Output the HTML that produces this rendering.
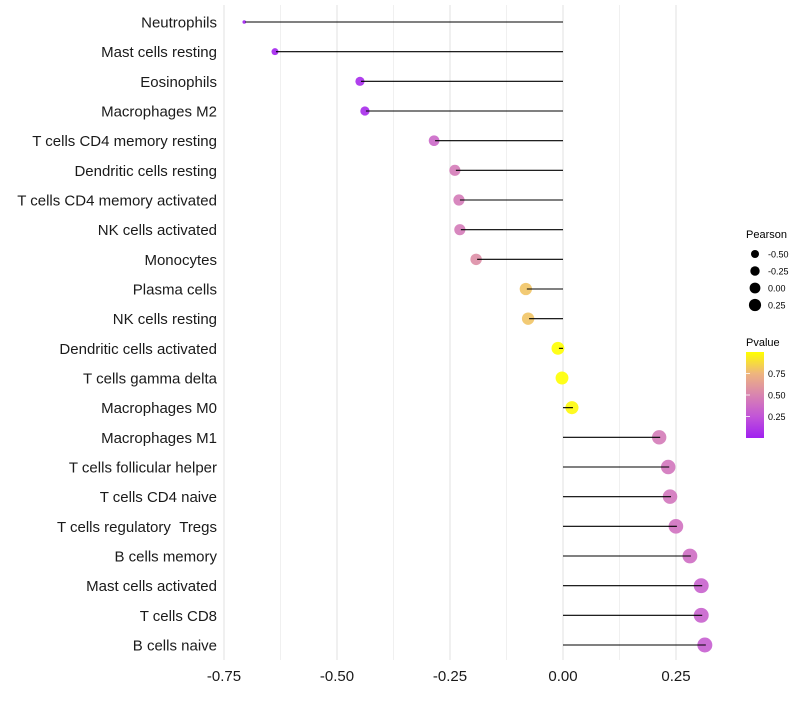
<!DOCTYPE html>
<html><head><meta charset="utf-8"><style>
body{margin:0;background:#fff;font-family:"Liberation Sans",sans-serif}
svg text{font-family:"Liberation Sans",sans-serif}
</style></head><body>
<svg id="chart" width="800" height="700" viewBox="0 0 800 700" xmlns="http://www.w3.org/2000/svg">
<g id="grid"></g>
<g id="marks"></g>
<g id="ylabels"></g>
<g id="xlabels"></g>
<g>
<text x="746" y="238" font-size="11">Pearson</text>
<g id="sizeleg"></g>
</g>
<g>
<text x="746" y="346" font-size="11">Pvalue</text>
<defs><linearGradient id="pg" x1="0" y1="1" x2="0" y2="0">
<stop offset="0" stop-color="#a020f0"/><stop offset="0.25" stop-color="#c255d8"/><stop offset="0.5" stop-color="#d984b0"/><stop offset="0.75" stop-color="#eeb57e"/><stop offset="1" stop-color="#ffff00"/>
</linearGradient></defs>
<rect x="746" y="352" width="18" height="86" fill="url(#pg)"/>
<g id="colleg"></g>
</g>
</svg>
<script>
const categories=["Neutrophils","Mast cells resting","Eosinophils","Macrophages M2","T cells CD4 memory resting","Dendritic cells resting","T cells CD4 memory activated","NK cells activated","Monocytes","Plasma cells","NK cells resting","Dendritic cells activated","T cells gamma delta","Macrophages M0","Macrophages M1","T cells follicular helper","T cells CD4 naive","T cells regulatory\u00a0\u00a0Tregs","B cells memory","Mast cells activated","T cells CD8","B cells naive"];
const pearson=[-0.703,-0.635,-0.447,-0.436,-0.283,-0.237,-0.228,-0.226,-0.19,-0.08,-0.075,-0.009,0.0,0.022,0.215,0.235,0.239,0.252,0.283,0.308,0.308,0.316];
const pvalue=[0.0,0.02,0.05,0.05,0.35,0.45,0.45,0.45,0.55,0.8,0.8,1.0,1.0,0.98,0.45,0.42,0.42,0.4,0.38,0.32,0.32,0.3];
const xTicks=[-0.75,-0.5,-0.25,0,0.25];
const xTickLabels=["-0.75","-0.50","-0.25","0.00","0.25"];
const sizeLegVals=[-0.5,-0.25,0,0.25];
const sizeLegLabels=["-0.50","-0.25","0.00","0.25"];
const colLegVals=[0.25,0.5,0.75];
const colLegLabels=["0.25","0.50","0.75"];

const NS="http://www.w3.org/2000/svg";
const x=v=>563+v*452;
const y=i=>22+i*(623/21);
const rad=v=>{const d=v+0.635;return Math.sqrt(Math.max(3.2,12.25+46.3*d+Math.min(0,d)*100));};
const stops=[[0,[160,32,240]],[0.25,[194,85,216]],[0.5,[217,132,176]],[0.75,[238,181,126]],[1,[255,255,0]]];
function col(p){p=Math.max(0,Math.min(1,p));for(let k=0;k<stops.length-1;k++){const a=stops[k],b=stops[k+1];if(p<=b[0]){const t=(p-a[0])/(b[0]-a[0]);const c=a[1].map((v,j)=>Math.round(v+(b[1][j]-v)*t));return `rgb(${c.join(',')})`;}}return "rgb(255,255,0)";}
function mk(tag,attrs,parent){const e=document.createElementNS(NS,tag);for(const k in attrs)e.setAttribute(k,attrs[k]);parent.appendChild(e);return e;}
const grid=document.getElementById('grid'),marks=document.getElementById('marks'),yl=document.getElementById('ylabels'),xl=document.getElementById('xlabels');
for(let k=0;k<=8;k++){const v=-0.75+k*0.125;const major=k%2===0;
const l=mk('line',{x1:x(v),x2:x(v),y1:5,y2:660,stroke:major?'#e6e6e6':'#f0f0f0','stroke-width':major?1.2:1},grid);

}
categories.forEach((c,i)=>{
const t=mk('text',{x:217,y:y(i)+5.5,'text-anchor':'end','font-size':15,fill:'#1a1a1a'},yl);t.textContent=c;


const p=mk('circle',{cx:x(pearson[i])-1,cy:y(i),r:rad(pearson[i]),fill:col(pvalue[i]),'fill-opacity':0.9},marks);


const s=mk('line',{x1:x(0),x2:x(pearson[i]),y1:y(i),y2:y(i),stroke:'#000','stroke-width':1.1},marks);


});
xTicks.forEach((v,i)=>{const t=mk('text',{x:x(v),y:681,'text-anchor':'middle','font-size':15,fill:'#1a1a1a'},xl);t.textContent=xTickLabels[i];

});
const sl=document.getElementById('sizeleg');
sizeLegVals.forEach((v,i)=>{const cy=254+i*17;
const c=mk('circle',{cx:755,cy:cy,r:4+i*0.7,fill:'#000'},sl);


const t=mk('text',{x:768,y:cy+3.5,'font-size':9},sl);t.textContent=sizeLegLabels[i];

});
const cl=document.getElementById('colleg');
colLegVals.forEach((v,i)=>{const cy=438-v*86;
const t=mk('text',{x:768,y:cy+3.5,'font-size':9},cl);t.textContent=colLegLabels[i];


const a=mk('line',{x1:746,x2:750,y1:cy,y2:cy,stroke:'#fff','stroke-width':0.8},cl);

});
</script>
</body></html>
